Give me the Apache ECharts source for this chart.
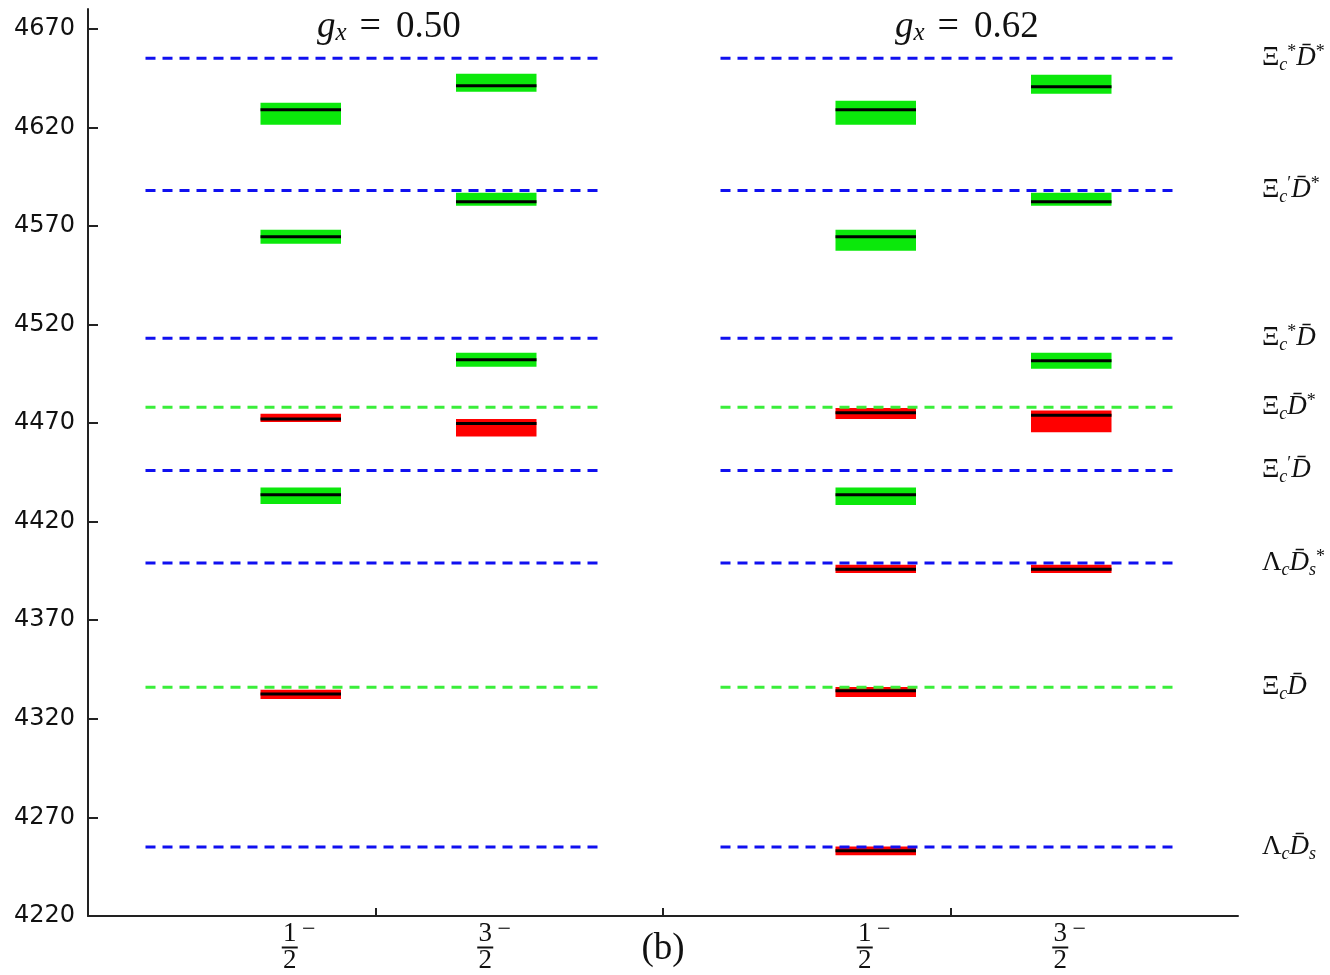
<!DOCTYPE html>
<html lang="en">
<head>
    <meta charset="UTF-8">
    <title>g_x levels</title>
    <script src="https://cdn.jsdelivr.net/npm/echarts@6/dist/echarts.min.js"></script>
</head>
<body style="margin:0;background:#fff">
<div id="main" style="width:1330px;height:975px;"></div>
<script>
    // y 轴刻度
    var yTicks = [4220, 4270, 4320, 4370, 4420, 4470, 4520, 4570, 4620, 4670];

    // 两个面板
    var panelTitles = ['0.50', '0.62'];
    var jpLabels = [['1', '2'], ['3', '2']];

    // 阈值 (虚线)
    var thresholds = [4655, 4588, 4513, 4478, 4446, 4399, 4336, 4255];
    var thresholdKind = ['b', 'b', 'b', 'g', 'b', 'b', 'g', 'b'];
    var thresholdNames = [
        '{x|Ξ}{sb|c}{sp|*}{d|D̄}{sp|*}',
        '{x|Ξ}{sb|c}{sp|′}{d|D̄}{sp|*}',
        '{x|Ξ}{sb|c}{sp|*}{d|D̄}',
        '{x|Ξ}{sb|c}{d|D̄}{sp|*}',
        '{x|Ξ}{sb|c}{sp|′}{d|D̄}',
        '{x|Λ}{sb|c}{d|D̄}{sb|s}{sp|*}',
        '{x|Ξ}{sb|c}{d|D̄}',
        '{x|Λ}{sb|c}{d|D̄}{sb|s}'
    ];

    // 态: [中心值, 上限, 下限, 类型]
    var g050_half = [[4628.9, 4632.5, 4621.3, 'g'], [4564.5, 4568.0, 4560.9, 'g'], [4472.1, 4474.7, 4470.5, 'r'],
        [4433.7, 4437.3, 4429.0, 'g'], [4332.6, 4334.7, 4330.1, 'r']];
    var g050_threeHalf = [[4641.1, 4647.2, 4638.0, 'g'], [4582.2, 4586.8, 4580.2, 'g'], [4502.1, 4505.6, 4498.5, 'g'],
        [4469.8, 4472.0, 4463.2, 'r']];
    var g062_half = [[4628.9, 4633.5, 4621.3, 'g'], [4564.5, 4568.0, 4557.4, 'g'], [4475.2, 4477.7, 4472.1, 'r'],
        [4433.7, 4437.3, 4428.5, 'g'], [4395.9, 4398.1, 4393.9, 'r'], [4334.2, 4336.2, 4331.1, 'r'],
        [4253.1, 4255.2, 4250.8, 'r']];
    var g062_threeHalf = [[4640.6, 4646.7, 4637.0, 'g'], [4582.2, 4586.8, 4580.2, 'g'], [4501.6, 4505.6, 4497.5, 'g'],
        [4474.0, 4476.4, 4465.4, 'r'], [4395.9, 4398.1, 4393.9, 'r']];

    var columns = [[g050_half, g050_threeHalf], [g062_half, g062_threeHalf]];

    function colX(panel, j) {
        return panel * 2 + 0.74 + j * 0.68;
    }

    var bandData = [];
    for (var p = 0; p < columns.length; p++) {
        for (var j = 0; j < columns[p].length; j++) {
            var list = columns[p][j];
            for (var i = 0; i < list.length; i++) {
                bandData.push([colX(p, j), list[i][0], list[i][1], list[i][2], list[i][3] === 'g' ? 0 : 1]);
            }
        }
    }

    var lineData = [];
    for (var p = 0; p < panelTitles.length; p++) {
        for (var k = 0; k < thresholds.length; k++) {
            lineData.push([p, thresholds[k], thresholdKind[k] === 'g' ? 1 : 0]);
        }
    }

    var xLabelValues = [colX(0, 0), colX(0, 1), 2, colX(1, 0), colX(1, 1)];

    var serif = 'Liberation Serif';
    var myChart = echarts.init(document.getElementById('main'));

    var option = {
        animation: false,
        title: [0, 1].map(function (p) {
            return {
                text: '{g|g}{s|x}{e|=}{n|' + panelTitles[p] + '}',
                left: p === 0 ? 312 : 890,
                top: 3,
                textStyle: {
                    fontWeight: 'normal',
                    rich: {
                        g: {fontFamily: serif, fontStyle: 'italic', fontSize: 37, fontWeight: 'normal', color: '#111'},
                        s: {fontFamily: serif, fontStyle: 'italic', fontSize: 25, fontWeight: 'normal', color: '#111', padding: [12, 0, 0, 0]},
                        e: {fontFamily: serif, fontSize: 38, fontWeight: 'normal', color: '#111', padding: [0, 15, 0, 13]},
                        n: {fontFamily: serif, fontSize: 37, fontWeight: 'normal', color: '#111'}
                    }
                }
            };
        }),
        grid: {left: 88, right: 92, top: 9, bottom: 59, outerBoundsMode: 'none'},
        xAxis: {
            type: 'value',
            min: 0,
            max: 4,
            splitLine: {show: false},
            axisLine: {lineStyle: {color: '#222', width: 2}},
            axisTick: {customValues: [1, 2, 3], inside: true, length: 8, lineStyle: {color: '#222', width: 2}},
            axisLabel: {
                customValues: xLabelValues,
                margin: 6,
                formatter: function (v) {
                    if (Math.abs(v - 2) < 1e-6) {
                        return '{b|(b)}';
                    }
                    var j = Math.abs(v - colX(0, 1)) < 1e-6 || Math.abs(v - colX(1, 1)) < 1e-6 ? 1 : 0;
                    return '{n|' + jpLabels[j][0] + '}{m|−}\n{bar|}{pad|}\n{n|' + jpLabels[j][1] + '}{pad|}';
                },
                rich: {
                    n: {fontFamily: serif, fontSize: 27, color: '#111', width: 16, align: 'center', lineHeight: 24},
                    m: {fontFamily: serif, fontSize: 24, color: '#111', width: 22, align: 'center', lineHeight: 24, padding: [0, 0, 8, 0]},
                    bar: {width: 16, height: 2, backgroundColor: '#111', lineHeight: 3},
                    pad: {width: 22, height: 2},
                    b: {fontFamily: serif, fontSize: 37, color: '#111', lineHeight: 54}
                }
            }
        },
        yAxis: [{
            type: 'value',
            min: 4220,
            max: 4680,
            interval: 50,
            splitLine: {show: false},
            axisLine: {show: true, lineStyle: {color: '#222', width: 2}},
            axisTick: {customValues: yTicks, inside: true, length: 10, lineStyle: {color: '#222', width: 2}},
            axisLabel: {
                customValues: yTicks,
                margin: 13,
                fontFamily: 'DejaVu Sans',
                fontSize: 24,
                color: '#111',
                formatter: function (v) {
                    return String(v);
                }
            }
        }, {
            type: 'value',
            position: 'right',
            min: 4220,
            max: 4680,
            interval: 50,
            splitLine: {show: false},
            axisLine: {show: false},
            axisTick: {show: false},
            axisLabel: {
                customValues: thresholds,
                margin: 24,
                formatter: function (v) {
                    return thresholdNames[thresholds.indexOf(v)];
                },
                rich: {
                    x: {fontFamily: serif, fontSize: 27, color: '#111'},
                    d: {fontFamily: serif, fontStyle: 'italic', fontSize: 27, color: '#111'},
                    sb: {fontFamily: serif, fontStyle: 'italic', fontSize: 18, color: '#111', padding: [14, 0, 0, 0]},
                    sp: {fontFamily: serif, fontSize: 18, color: '#111', padding: [0, 0, 12, 0]}
                }
            }
        }],
        series: [{
            // 态的误差带和中心值
            type: 'custom',
            data: bandData,
            z: 2,
            renderItem: function (params, api) {
                var xc = api.value(0), hw = 0.14;
                var tl = api.coord([xc - hw, api.value(2)]);
                var br = api.coord([xc + hw, api.value(3)]);
                var c1 = api.coord([xc - hw, api.value(1)]);
                var c2 = api.coord([xc + hw, api.value(1)]);
                return {
                    type: 'group',
                    children: [{
                        type: 'rect',
                        shape: {x: tl[0], y: tl[1], width: br[0] - tl[0], height: br[1] - tl[1]},
                        style: {fill: api.value(4) === 0 ? '#0be80b' : '#ff0000'}
                    }, {
                        type: 'line',
                        shape: {x1: c1[0], y1: c1[1], x2: c2[0], y2: c2[1]},
                        style: {stroke: '#000', lineWidth: 3}
                    }]
                };
            }
        }, {
            // 阈值虚线
            type: 'custom',
            data: lineData,
            z: 3,
            renderItem: function (params, api) {
                var p = api.value(0);
                var a = api.coord([p * 2 + 0.2, api.value(1)]);
                var b = api.coord([p * 2 + 1.78, api.value(1)]);
                return {
                    type: 'line',
                    shape: {x1: a[0], y1: a[1], x2: b[0], y2: b[1]},
                    style: {stroke: api.value(2) === 1 ? '#3aee3a' : '#1010f0', lineWidth: 3, lineDash: [10, 7]}
                };
            }
        }]
    };

    myChart.setOption(option);
</script>
</body>
</html>
